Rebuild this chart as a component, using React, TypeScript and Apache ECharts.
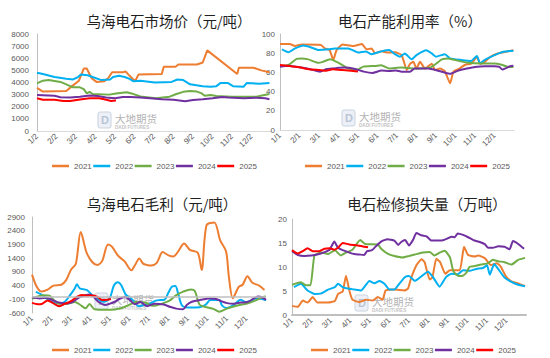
import React, { useEffect, useRef } from "react";
import * as echarts from "echarts";

const years = ["2021", "2022", "2023", "2024", "2025"];
const colors = ["#ED7D31", "#00B0F0", "#70AD47", "#7030A0", "#FF0000"];
const priceXLabels = ["1/2", "2/2", "3/2", "4/2", "5/2", "6/2", "7/2", "8/2", "9/2", "10/2", "11/2", "12/2", "1/2"];
const dayXLabels = ["1/1", "2/1", "3/1", "4/1", "5/1", "6/1", "7/1", "8/1", "9/1", "10/1", "11/1", "12/1"];
const titles = ["乌海电石市场价（元/吨）", "电石产能利用率（%）", "乌海电石毛利（元/吨）", "电石检修损失量（万吨）"];

// x = month offset from the first label (1 = one month later)
const price2021 = [[0,3550],[0.3,3250],[1.5,3300],[1.8,3700],[2.15,4150],[2.4,5150],[2.55,5150],[2.8,4350],[3.05,4050],[3.45,4100],[3.65,4350],[3.85,4850],[4.4,4850],[4.55,4900],[4.75,4550],[5.03,4100],[5.2,4650],[6.4,4700],[6.5,5300],[7.1,5300],[7.25,5480],[8.2,5480],[8.5,5650],[8.73,6650],[10.27,4700],[10.35,5220],[11.1,5220],[11.5,5000],[11.92,4850]];
const price2022 = [[0,4800],[0.3,4700],[0.9,4450],[1.5,4300],[1.85,4250],[2.1,4450],[2.25,4650],[2.6,4600],[2.85,4450],[3.3,4200],[3.75,4250],[3.9,4450],[4.2,4550],[4.5,4450],[4.75,4300],[4.95,4100],[5.3,4150],[6.05,4000],[6.9,4050],[7.2,4250],[7.5,4200],[7.85,3850],[8.5,3700],[8.9,3650],[9.2,3700],[9.4,3950],[9.8,3950],[10.05,3700],[10.6,3650],[10.75,3950],[11.4,3900],[11.92,3950]];
const price2023 = [[0,3930],[0.3,4150],[0.6,4200],[1.2,4050],[1.5,3850],[1.85,3600],[2.2,3600],[2.4,3450],[2.55,3100],[2.7,3230],[2.85,3050],[3.7,3000],[4.05,3100],[4.6,3200],[4.85,3100],[5.3,2850],[6.1,2700],[6.8,2830],[7.15,3050],[7.5,3230],[7.85,3300],[8.2,3250],[8.45,3100],[8.6,2900],[8.9,2970],[9.2,2880],[10,2830],[11.25,2830],[11.6,2950],[11.92,3050]];
const price2024 = [[0,2970],[0.9,2900],[1.2,2780],[1.7,2760],[2.2,2830],[2.7,2920],[3.1,2890],[3.55,2760],[4,2700],[4.4,2800],[4.8,2800],[5.3,2760],[5.8,2700],[6.4,2620],[7,2580],[7.6,2450],[8,2560],[8.5,2620],[9,2700],[9.5,2800],[9.8,2760],[10.6,2700],[11.25,2750],[11.7,2700],[11.92,2620]];
const price2025 = [[0,2700],[0.3,2580],[0.9,2570],[1.35,2480],[1.7,2480],[2.2,2600],[2.7,2700],[3.2,2700],[3.55,2580],[3.8,2480],[4.05,2520]];

const util2021 = [[0,89.6],[0.5,89.5],[0.77,87.5],[1.1,89],[2.1,88.5],[2.3,85],[2.55,83],[2.73,73],[2.9,83],[3.2,89],[3.75,87.5],[4.2,89.6],[4.44,84],[4.7,85],[4.87,80],[5.2,82],[5.55,80.7],[5.9,81],[6.24,78],[6.5,62.5],[6.67,69],[6.84,71],[7.0,64],[7.18,71],[7.44,64],[7.78,69],[7.95,62.5],[8.2,64],[8.46,61],[8.72,48.6],[8.9,61],[9.2,64],[9.5,68],[9.8,69],[10.1,76],[10.26,69],[10.5,71],[10.77,76],[11.2,80],[11.6,81.6],[11.97,83]];
const util2022 = [[0.1,84],[0.43,81],[0.77,85],[1.2,88],[1.6,86],[1.96,83.3],[2.5,84],[2.8,85],[3.5,85],[4.0,80.7],[4.4,81.9],[4.7,79],[5.2,81.9],[5.6,83.3],[5.9,79],[6.15,76.4],[6.4,79.8],[6.75,73.6],[7.0,78],[7.5,83],[7.78,79.8],[8.0,76.4],[8.46,79],[8.72,74.6],[9.3,73],[9.8,72],[10.1,77],[10.26,69.4],[10.5,73],[11.0,78],[11.45,81.6],[11.97,82.6]];
const util2023 = [[0,66.7],[0.43,67.7],[0.85,74],[1.1,74.6],[1.45,73.6],[1.96,70],[2.2,71],[2.56,73.6],[2.8,72],[3.2,67.7],[3.5,64],[4.0,63],[4.27,66],[4.87,66.7],[5.2,67.4],[5.6,64],[6.2,65],[6.9,64],[7.7,65],[8.0,69],[8.3,73.6],[8.63,74.6],[9.15,72],[9.66,70],[10.34,69.4],[11.0,69.4],[11.37,68],[11.7,65.7],[11.97,65.7]];
const util2024 = [[0,66],[0.43,67],[1.1,65],[1.6,63],[2.05,60.8],[2.4,63.5],[2.9,64.5],[3.3,65],[3.85,63.5],[4.3,60.8],[4.75,59.5],[5.2,62],[5.6,61.5],[5.95,62],[6.24,60.8],[6.67,60.8],[6.9,64],[7.6,64],[8.1,61.8],[8.46,59.7],[8.72,58.5],[9.15,62],[9.58,64],[10.0,65.7],[10.5,66.4],[11.0,66.4],[11.25,65.7],[11.4,63],[11.8,66.4],[11.97,67]];
const util2025 = [[0,67.7],[0.48,66.7],[1.0,65.3],[1.5,63.2],[2.0,62.5],[2.36,61.8],[2.7,63.2],[3.2,62.5],[3.64,61.8],[4.0,60.8]];

const margin2021 = [[0,800],[0.25,350],[0.5,180],[0.8,250],[1.1,400],[1.5,430],[1.75,600],[2.0,980],[2.25,1200],[2.5,2350],[2.8,1600],[3.1,1250],[3.35,1150],[3.6,1300],[3.9,1900],[4.1,1820],[4.4,1500],[4.75,1280],[5.1,960],[5.3,1170],[5.5,1390],[5.7,1200],[5.9,1150],[6.1,1130],[6.4,1230],[6.7,1620],[7.0,1500],[7.25,1460],[7.5,1650],[7.8,1930],[8.1,1700],[8.5,1600],[8.7,970],[8.95,2600],[9.35,2700],[9.65,2050],[9.95,1650],[10.1,700],[10.3,-60],[10.6,350],[10.8,430],[11.05,740],[11.3,500],[11.65,400],[11.92,240]];
const margin2022 = [[0.2,170],[0.46,80],[0.8,-100],[1.06,-200],[1.45,-250],[1.7,-180],[1.95,50],[2.2,300],[2.3,450],[2.45,300],[2.8,240],[3.1,50],[3.37,-90],[3.65,-190],[3.97,-80],[4.2,400],[4.4,520],[4.57,420],[4.8,80],[5.05,-60],[5.27,-200],[5.45,-350],[5.75,-310],[6.05,-250],[6.4,-140],[6.8,-110],[7.0,150],[7.2,370],[7.35,380],[7.5,100],[7.7,-330],[8.1,-400],[8.6,-390],[8.9,-300],[9.15,-130],[9.6,-130],[9.75,-330],[10.0,-420],[10.35,-300],[10.7,-120],[10.95,-200],[11.25,-150],[11.5,-60],[11.75,-80],[12,-140]];
const margin2023 = [[0,-80],[0.3,0],[0.6,50],[0.9,30],[1.15,-150],[1.4,-260],[1.8,-260],[2.2,-200],[2.45,-290],[2.75,-430],[2.95,-270],[3.2,-460],[3.8,-480],[4.25,-470],[4.6,-420],[4.9,-330],[5.35,-200],[5.8,-220],[6.2,-340],[6.7,-250],[7.05,-150],[7.4,50],[7.75,180],[8.15,260],[8.35,200],[8.6,-300],[8.95,-390],[9.3,-450],[9.6,-550],[9.95,-450],[10.3,-370],[10.7,-300],[11.07,-250],[11.5,-130],[11.84,-20],[12,0]];
const margin2024 = [[0,-30],[0.4,-70],[0.75,-40],[1.1,-140],[1.45,-230],[1.8,-250],[2.1,-190],[2.45,-20],[2.7,40],[2.95,70],[3.15,-10],[3.4,-190],[3.75,-310],[4.0,-260],[4.25,-190],[4.5,-80],[4.75,-20],[5.0,-110],[5.27,-280],[5.55,-200],[5.9,-350],[6.3,-260],[6.75,-290],[7.1,-380],[7.4,-440],[7.75,-460],[7.95,-300],[8.2,-190],[8.65,-120],[9.1,-70],[9.4,-80],[9.7,-170],[10.0,-240],[10.35,-260],[10.7,-220],[11.05,-200],[11.4,-60],[11.6,0],[11.85,-50],[12,-120]];
const margin2025 = [[0,-230],[0.3,-280],[0.5,-270],[0.8,-140],[1.1,-250],[1.4,-350],[1.7,-260],[2.0,-170],[2.3,-10],[2.55,60],[2.8,30],[3.1,40],[3.35,-10],[3.6,-130],[3.85,-120],[4.05,-90]];

const loss2021 = [[0,1.9],[0.3,1.7],[0.55,3.0],[0.8,2.6],[1.06,3.75],[1.3,2.6],[1.85,2.6],[2.2,2.9],[2.36,4.4],[2.6,4.9],[2.77,8.2],[2.94,5.1],[3.1,3.2],[3.45,2.7],[3.8,3.2],[4.14,3.0],[4.4,3.75],[4.65,3.2],[4.8,5.1],[5.25,5.3],[5.76,5.1],[5.95,5.5],[6.1,7.6],[6.4,10.5],[6.64,11.6],[6.8,11.0],[7.06,7.4],[7.2,7.8],[7.4,11.7],[7.6,11.0],[7.86,8.6],[8.1,9.3],[8.6,9.3],[8.82,14.2],[9.03,12.5],[9.37,12.2],[9.55,12.4],[9.9,11.8],[10.2,10.4],[10.5,10.8],[10.7,10.1],[10.98,8.0],[11.25,7.0],[11.6,6.6],[11.95,6.0]];
const loss2022 = [[0.1,5.8],[0.46,6.5],[0.8,5.1],[1.15,4.4],[1.5,4.5],[1.85,5.3],[2.2,5.8],[2.36,6.5],[2.6,5.8],[2.86,5.5],[3.2,5.3],[3.54,5.1],[3.97,7.1],[4.23,6.6],[4.48,7.1],[4.74,6.5],[5.0,5.3],[5.25,5.3],[5.5,6.5],[5.8,7.9],[6.0,8.1],[6.3,7.1],[6.97,9.0],[7.23,7.9],[7.57,5.9],[7.9,7.9],[8.17,8.6],[8.5,8.5],[8.77,9.3],[9.1,9.2],[9.45,9.6],[9.8,9.8],[10.0,10.4],[10.14,8.4],[10.37,10.6],[10.57,9.6],[10.9,7.8],[11.25,6.9],[11.6,6.3],[11.95,6.0]];
const loss2023 = [[0,6.3],[0.46,6.8],[0.72,6.2],[0.95,6.2],[1.15,12.4],[1.5,13.0],[1.85,12.7],[2.2,13.5],[2.5,12.4],[2.77,13.0],[3.1,13.6],[3.5,15.6],[3.75,14.8],[4.4,14.7],[4.57,13.8],[4.9,12.8],[5.25,12.3],[5.67,12.0],[6.0,12.3],[6.3,12.6],[6.7,13.0],[7.06,13.1],[7.3,12.4],[7.57,13.0],[7.83,13.4],[8.1,12.0],[8.26,9.3],[8.43,8.4],[8.6,8.1],[8.77,8.2],[8.94,8.8],[9.1,10.0],[9.37,10.2],[9.7,10.5],[10.06,10.8],[10.3,11.5],[10.57,11.2],[10.9,11.0],[11.25,10.5],[11.6,11.5],[11.95,11.9]];
const loss2024 = [[0,13.3],[0.3,12.5],[0.64,12.3],[1.0,12.4],[1.3,12.6],[1.67,13.1],[1.93,13.6],[2.17,15.3],[2.36,14.0],[2.6,13.5],[2.94,13.0],[3.2,12.7],[3.45,12.6],[3.7,12.5],[3.85,13.3],[4.1,13.5],[4.3,14.3],[4.57,15.3],[4.9,15.8],[5.25,15.5],[5.45,14.6],[5.6,15.2],[5.8,15.6],[6.0,14.5],[6.2,15.6],[6.38,17.1],[6.64,16.6],[6.9,16.4],[7.15,15.5],[7.66,15.5],[7.9,15.8],[8.17,16.3],[8.35,16.2],[8.5,17.0],[8.77,16.7],[9.03,16.2],[9.3,15.6],[9.63,15.2],[9.9,14.7],[10.06,14.0],[10.3,14.0],[10.57,14.3],[10.9,14.2],[11.16,13.7],[11.33,15.4],[11.6,14.8],[11.9,13.8]];
const loss2025 = [[0,13.5],[0.3,12.8],[0.55,13.3],[0.8,13.9],[1.06,13.3],[1.4,13.3],[1.67,13.8],[1.93,13.9],[2.17,13.6],[2.36,14.0],[2.6,15.0],[2.94,14.7],[3.37,14.5],[3.9,14.1]];

const panelData = [
  [price2021, price2022, price2023, price2024, price2025],
  [util2021, util2022, util2023, util2024, util2025],
  [margin2021, margin2022, margin2023, margin2024, margin2025],
  [loss2021, loss2022, loss2023, loss2024, loss2025],
];

const yRanges = [
  { min: 0, max: 8000, interval: 1000 },
  { min: 0, max: 100, interval: 20 },
  { min: -600, max: 2900, interval: 500 },
  { min: 0, max: 20, interval: 5 },
];

const grids = [
  { left: 37, top: 34, width: 234, height: 97 },
  { left: 280, top: 34, width: 234, height: 96 },
  { left: 32, top: 217, width: 234, height: 96 },
  { left: 292, top: 219, width: 234, height: 96 },
];
const titlePos = [[169, 20], [410, 20], [162, 203], [427, 203]];
const legendPos = [[47, 157], [300, 157], [47, 341], [306, 341]];
const markPos = [[98, 112], [342, 110], [95, 293], [355, 295]];
const yLabelMargin = [8, 5, 7, 5];
const smoothness = [false, 0.15, 0.3, 0.15];

const labelFont = "Liberation Sans, Arial, sans-serif";
const cjkFont = "Noto Sans CJK SC";

function watermark(x: number, y: number) {
  return {
    type: "group",
    x,
    y,
    z: 0,
    silent: true,
    children: [
      { type: "rect", shape: { x: 0, y: 0, width: 13, height: 16, r: 2 }, style: { fill: "rgba(225,232,242,0.6)", stroke: "#c9d3e0", lineWidth: 1 } },
      { type: "text", x: 3, y: 2, style: { text: "D", fill: "#b8c4d6", font: "bold 11px " + labelFont } },
      { type: "text", x: 17, y: 1, style: { text: "大地期货", fill: "#b3b3b3", font: "10.5px '" + cjkFont + "'" } },
      { type: "text", x: 17, y: 12.5, style: { text: "DADI FUTURES", fill: "#c4c4c4", font: "bold 4.6px " + labelFont } },
    ],
  };
}

export default function App() {
  const ref = useRef<HTMLDivElement>(null);
  useEffect(() => {
    if (!ref.current) return;
    const chart = echarts.init(ref.current, undefined, { renderer: "svg" });

    const xAxis = grids.map((_, i) => ({
      type: "value",
      gridIndex: i,
      min: 0,
      max: 12,
      interval: 1,
      axisLine: {
        show: i !== 2,
        onZero: false,
        lineStyle: { color: i === 3 ? "#bfbfbf" : "#d9d9d9", width: i === 3 ? 2 : 1 },
      },
      axisTick: { show: false },
      splitLine: { show: false },
      axisLabel: {
        rotate: 45,
        fontSize: 8,
        margin: 4,
        color: "#595959",
        fontFamily: labelFont,
        showMaxLabel: false,
        showMinLabel: true,
        formatter: (v: number) => (i === 0 ? priceXLabels[v] : dayXLabels[v]) ?? "",
      },
    }));

    const yAxis = grids.map((_, i) => ({
      type: "value",
      gridIndex: i,
      ...yRanges[i],
      axisLine: { show: true, lineStyle: { color: "#bfbfbf", width: 1 } },
      axisTick: { show: false },
      splitLine: { show: false },
      axisLabel: {
        fontSize: 8,
        margin: yLabelMargin[i],
        color: "#595959",
        fontFamily: labelFont,
        formatter: (v: number) => String(v),
      },
    }));

    const series: any[] = [];
    panelData.forEach((panel, i) => {
      panel.forEach((data, j) => {
        const s: any = {
          type: "line",
          name: years[j],
          xAxisIndex: i,
          yAxisIndex: i,
          data,
          symbol: "none",
          showSymbol: false,
          smooth: smoothness[i],
          lineStyle: { width: 2, color: colors[j] },
          itemStyle: { color: colors[j] },
          z: 3,
        };
        if (i === 2 && j === 0) {
          s.markLine = {
            silent: true,
            symbol: ["none", "none"],
            label: { show: false },
            lineStyle: { color: "#bfbfbf", width: 1.5, type: "solid" },
            data: [{ yAxis: 0 }],
          };
        }
        series.push(s);
      });
    });

    const legend = legendPos.map(([l, t]) => ({
      data: years,
      left: l,
      top: t,
      icon: "rect",
      itemWidth: 17,
      itemHeight: 2.5,
      itemGap: 1.5,
      textStyle: { fontSize: 8, color: "#595959", fontFamily: labelFont },
    }));

    const graphic: any[] = [];
    markPos.forEach(([x, y]) => graphic.push(watermark(x, y)));
    titlePos.forEach(([x, y], i) =>
      graphic.push({
        type: "text",
        x,
        y,
        z: 10,
        style: {
          text: titles[i],
          fill: "#1f1f1f",
          font: "14.5px '" + cjkFont + "'",
          textAlign: "center",
          textVerticalAlign: "middle",
        },
      })
    );

    chart.setOption({
      animation: false,
      backgroundColor: "#ffffff",
      grid: grids,
      xAxis,
      yAxis,
      legend,
      graphic,
      series,
    });
    return () => chart.dispose();
  }, []);

  return (
    <div
      ref={ref}
      style={{ position: "fixed", left: 0, top: 0, width: 550, height: 358, background: "#fff" }}
    />
  );
}
